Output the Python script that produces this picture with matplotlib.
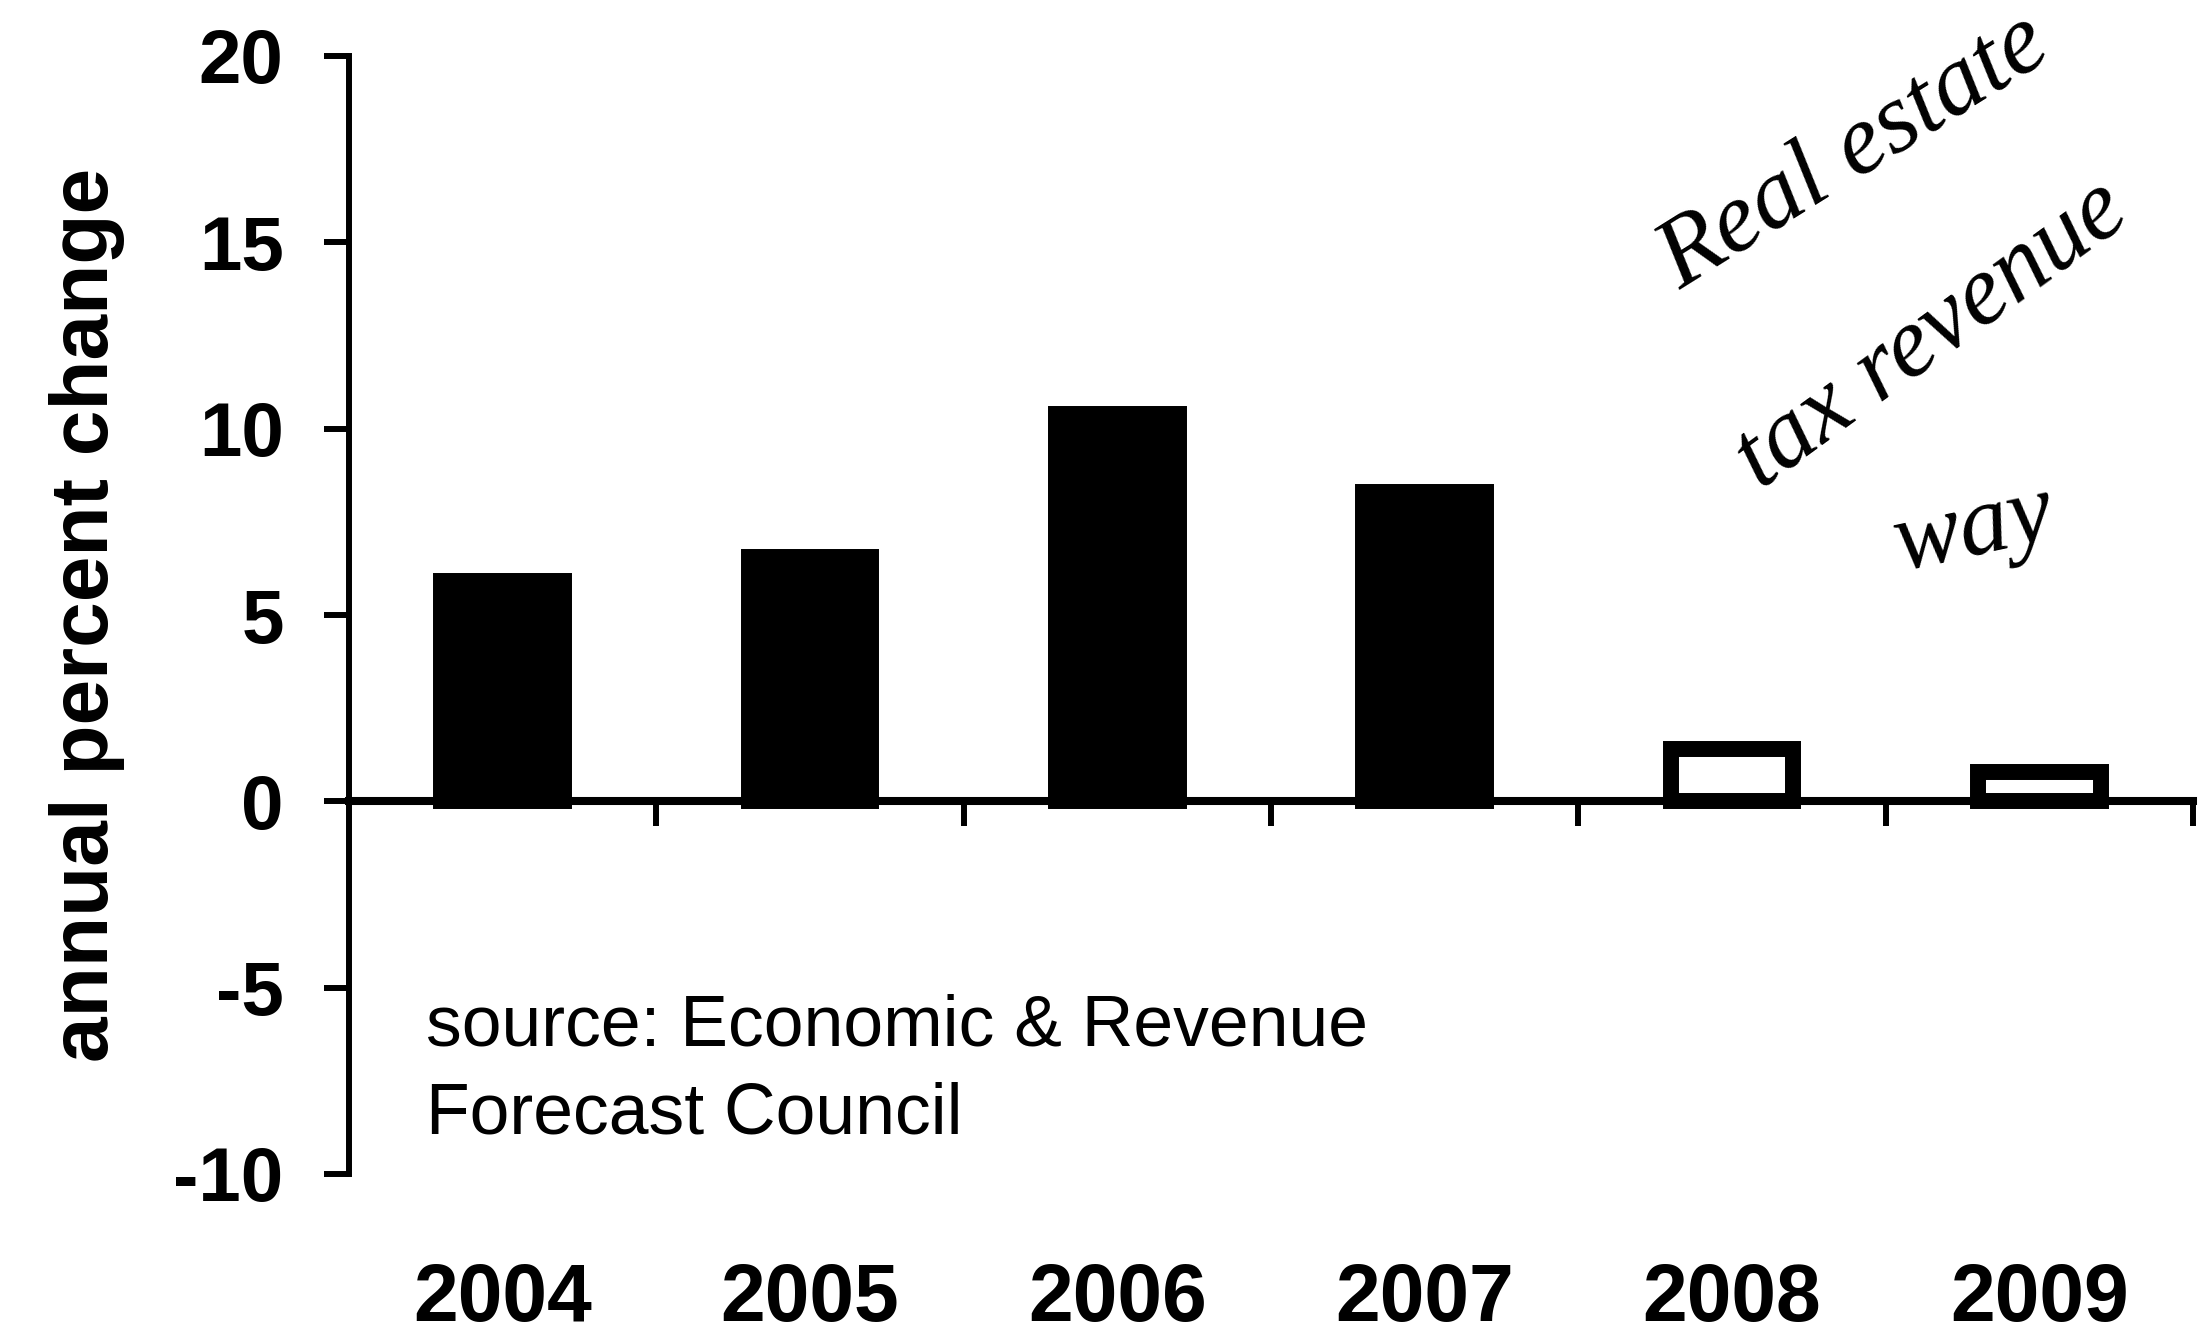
import matplotlib.pyplot as plt
import numpy as np

plt.rcParams['font.family'] = ['Liberation Sans', 'DejaVu Sans']
plt.rcParams['font.weight'] = 'bold'
plt.rcParams['axes.unicode_minus'] = False

# data
years = ['2004', '2005', '2006', '2007', '2008', '2009']
pct_change = [5.9, 6.55, 10.4, 8.3, 1.4, 0.8]
is_forecast = [False, False, False, False, True, True]
yticks = [-10, -5, 0, 5, 10, 15, 20]

W, H = 2205, 1337
fig = plt.figure(figsize=(W / 100, H / 100), dpi=100)
ax = fig.add_axes([349 / W, 1 - 1174 / H, (2193 - 349) / W, (1174 - 56) / H])

x = np.arange(len(years))
faces = ['white' if f else 'black' for f in is_forecast]
ax.bar(x, pct_change, width=0.40, color=faces, edgecolor='black',
       linewidth=11.5, zorder=3)

ax.set_xlim(-0.5, len(years) - 0.5)
ax.set_ylim(-10, 20)
ax.set_yticks(yticks)

for s in ['top', 'right']:
    ax.spines[s].set_visible(False)
ax.spines['left'].set_linewidth(4.3)
ax.spines['bottom'].set_linewidth(5.8)
ax.spines['bottom'].set_position(('data', 0))

# year labels sit far below the zero line, tick marks between categories
ax.set_xticks(x, years)
ax.set_xticks(x + 0.5, minor=True)
ax.tick_params(axis='x', which='major', length=0, pad=332, labelsize=58)
ax.tick_params(axis='x', which='minor', length=18, width=4.3, direction='out')
ax.tick_params(axis='y', length=18, width=4.3, pad=29, labelsize=55)

fig.text(87 / W, 1 - 615 / H, 'annual percent change', rotation=90,
         ha='center', va='center', fontsize=59, fontweight='bold')

fig.text(426 / W, 1 - 1045 / H, 'source: Economic & Revenue',
         fontsize=51.5, fontweight='normal', va='baseline')
fig.text(426 / W, 1 - 1133 / H, 'Forecast Council',
         fontsize=51.5, fontweight='normal', va='baseline')

# handwritten note in the corner
hand = dict(family='Liberation Serif', style='italic', fontweight='normal',
            fontsize=72, ha='left', va='baseline', rotation_mode='anchor')
fig.text(1680 / W, 1 - 290 / H, 'Real estate', rotation=32, **hand)
fig.text(1760 / W, 1 - 490 / H, 'tax revenue', rotation=36, **hand)
fig.text(1900 / W, 1 - 570 / H, 'way', rotation=12, **hand)

fig.savefig('out.png', dpi=100, facecolor='white')
